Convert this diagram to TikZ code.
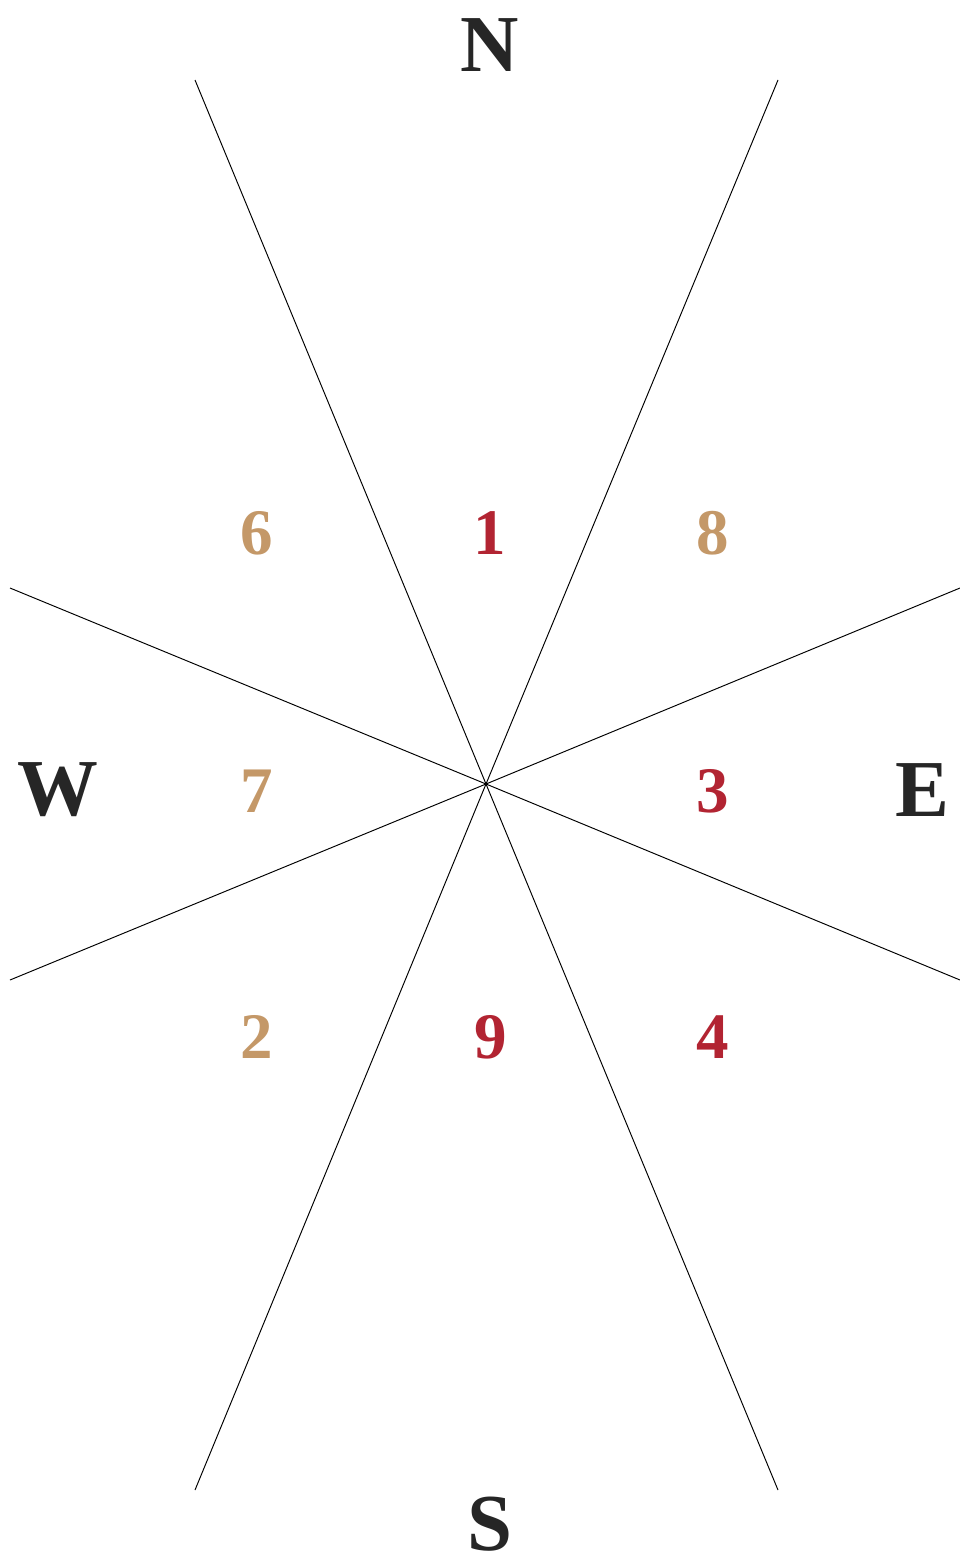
\documentclass[tikz,border=0pt]{standalone}
\usepackage{fontspec}
\setmainfont{Liberation Serif}
\definecolor{luckred}{RGB}{178,36,50}
\definecolor{luckgold}{RGB}{196,152,104}
\tikzset{
  compass/.style={inner sep=0pt, text=black!85, font=\bfseries\fontsize{46}{46}\selectfont},
  num/.style={inner sep=0pt, font=\bfseries\fontsize{37}{37}\selectfont},
  red/.style={num, text=luckred},
  gold/.style={num, text=luckgold},
}
\begin{document}
\begin{tikzpicture}[x=0.02cm,y=-0.02cm]
    \useasboundingbox (0,0) rectangle (960,1562);
    % rays through the centre
    \coordinate (c) at (486,784);
    \coordinate (nw) at (195,80);   \coordinate (se) at (778,1490);
    \coordinate (ne) at (778,80);   \coordinate (sw) at (195,1490);
    \coordinate (wn) at (10,588);   \coordinate (es) at (960,980);
    \coordinate (ws) at (10,980);   \coordinate (en) at (960,588);
    \draw[line width=0.55pt] (nw) -- (c) -- (se);
    \draw[line width=0.55pt] (ne) -- (c) -- (sw);
    \draw[line width=0.55pt] (wn) -- (c) -- (es);
    \draw[line width=0.55pt] (ws) -- (c) -- (en);
    % directions
    \node[compass] (north) at (490,45) {N};
    \node[compass] (west) at (58,790) {W};
    \node[compass] (east) at (922,790) {E};
    \node[compass] (south) at (490,1524) {S};
    % numbers
    \node[gold] (six) at (257,533) {6};
    \node[red] (one) at (490,533) {1};
    \node[gold] (eight) at (713,533) {8};
    \node[gold] (seven) at (257,791) {7};
    \node[red] (three) at (713,791) {3};
    \node[gold] (two) at (257,1037) {2};
    \node[red] (nine) at (491,1037) {9};
    \node[red] (four) at (713,1037) {4};
\end{tikzpicture}
\end{document}
